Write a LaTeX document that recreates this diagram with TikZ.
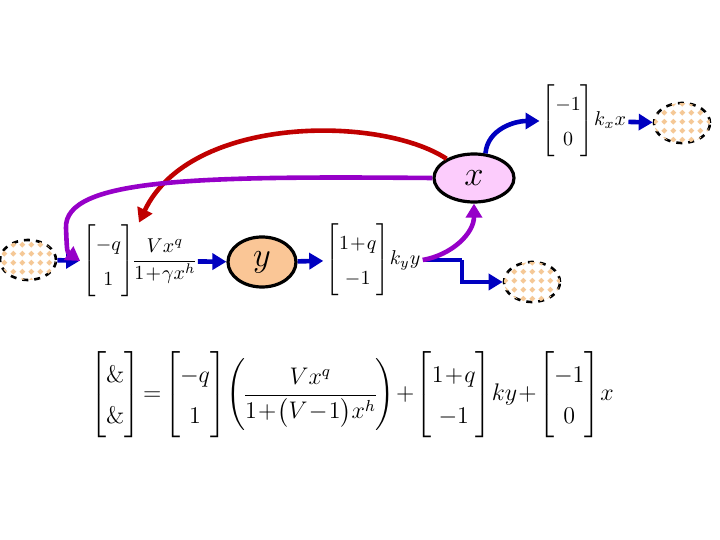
\documentclass[tikz,border=0pt]{standalone}
\usepackage{amsmath}
\usepackage{xcolor}
\definecolor{flowblue}{RGB}{0, 0, 192}
\definecolor{feedpurple}{RGB}{150, 0, 200}
\definecolor{inhibred}{RGB}{192, 0, 0}
\definecolor{speciesy}{RGB}{250, 198, 150}
\definecolor{speciesx}{RGB}{252, 204, 252}
\definecolor{pooldot}{RGB}{245, 200, 150}
\usetikzlibrary{
    shapes.geometric,
    arrows.meta,
    positioning,
    patterns
}
\pgfdeclarepatternformonly{diamond dots}{\pgfpointorigin}{\pgfpoint{4.4pt}{4.4pt}}{\pgfpoint{4.4pt}{4.4pt}}{
    \pgfpathmoveto{\pgfpoint{2.2pt}{0.7pt}}
    \pgfpathlineto{\pgfpoint{3.7pt}{2.2pt}}
    \pgfpathlineto{\pgfpoint{2.2pt}{3.7pt}}
    \pgfpathlineto{\pgfpoint{0.7pt}{2.2pt}}
    \pgfpathclose
    \pgfusepath{fill}}
\newcommand{\tightmath}{\medmuskip=1mu\thickmuskip=2mu\arraycolsep=2pt\nulldelimiterspace=0pt\renewcommand{\arraystretch}{1.45}}

\begin{document}
\begin{tikzpicture}[x=0.5pt,y=-0.5pt,
    pool/.style={ellipse, draw, dashed, line width=1.3pt, minimum width=28pt, minimum height=20pt,
        fill=white, postaction={pattern=diamond dots, pattern color=pooldot}},
    species/.style={ellipse, draw, line width=1.6pt, font=\LARGE, inner sep=0pt},
    rate/.style={inner sep=1pt, font=\normalsize\tightmath},
    flow/.style={line width=2.3pt, flowblue, -{Triangle[length=7pt,width=8pt]}},
    feed/.style={line width=2.3pt, feedpurple, -{Triangle[length=7pt,width=8pt]}},
    inhib/.style={line width=2.3pt, inhibred, -{Triangle[length=7pt,width=8pt]}}]
            \useasboundingbox (0,0) rectangle (720,540);

            % Pools
            \node[pool] (src) at (28,260) {};
            \node[pool] (sinky) at (532,282) {};
            \node[pool] (sinkx) at (682,123) {};

            % Species
            \node[species, fill=speciesy, minimum width=34pt, minimum height=25pt] (y) at (262,262) {$y$};
            \node[species, fill=speciesx, minimum width=40pt, minimum height=24pt] (x) at (474,178) {$x$};

            % Rates
            \node[rate] (prod) at (139,261) {$\begin{bmatrix}-q\\ 1\end{bmatrix}\!\dfrac{Vx^q}{1+\gamma x^h}$};
            \node[rate] (conv) at (373,260) {$\begin{bmatrix}1+q\\ -1\end{bmatrix}\!k_y y$};
            \node[rate] (decay) at (584,121) {$\begin{bmatrix}-1\\ 0\end{bmatrix}\!k_x x$};

            % Flows
            \draw[flow] (src) -- (prod);
            \draw[flow] (prod) -- (y);
            \draw[flow] (y) -- (conv);
            \draw[flow, -] (conv.east) -- (462,260) coordinate (bend);
            \draw[flow] (bend) |- (sinky);
            \draw[feed] (conv.east) to[out=10,in=-90] (x.south);
            \draw[flow] (x.65) to[out=85,in=180] (decay.west);
            \draw[flow] (decay) -- (sinkx);

            % Feedback
            \draw[inhib] (x.145) .. controls (380,115) and (190,115) .. (prod.north);
            \draw[feed] (x.west) .. controls (200,176) and (64,178) .. (66,228) .. controls (67,252) .. (prod.west);

            % Rate equation
            \node[font=\large\tightmath] (eqn) at (352,395) {$\begin{bmatrix}\&\\ \&\end{bmatrix}=\begin{bmatrix}-q\\ 1\end{bmatrix}\!\left(\dfrac{Vx^q}{1+\bigl(V-1\bigr)x^h}\right)+\begin{bmatrix}1+q\\ -1\end{bmatrix}\!ky+\begin{bmatrix}-1\\ 0\end{bmatrix}\!x$};
        \end{tikzpicture}
\end{document}
